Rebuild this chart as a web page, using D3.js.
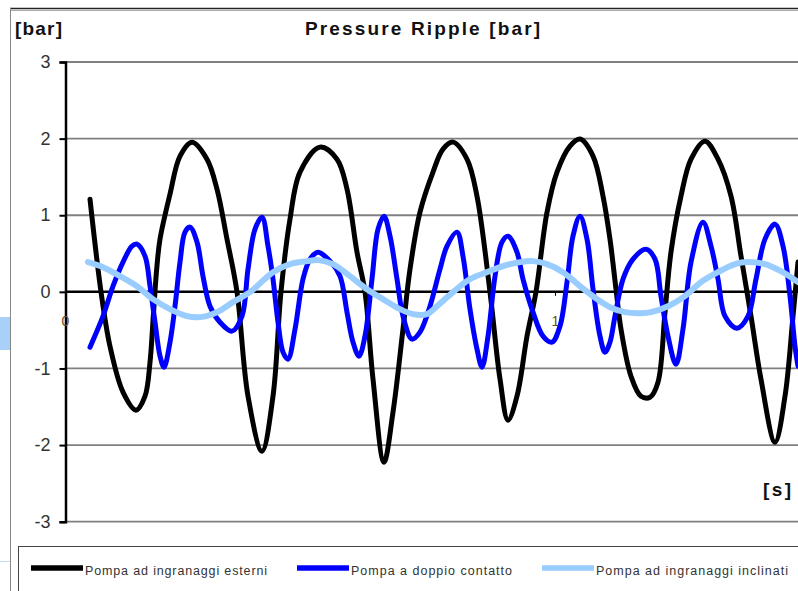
<!DOCTYPE html>
<html><head><meta charset="utf-8">
<script src="https://cdn.jsdelivr.net/npm/d3@7/dist/d3.min.js"></script>
<style>html,body{margin:0;padding:0;background:#fff;}svg{display:block;}</style>
</head><body>
<svg id="c" width="798" height="591"></svg>
<script>
const title = "Pressure Ripple [bar]";
const yUnit = "[bar]";
const xUnit = "[s]";
const yTicks = [-3, -2, -1, 0, 1, 2, 3];
const xTicks = [0, 1];
const seriesNames = ["Pompa ad ingranaggi esterni", "Pompa a doppio contatto", "Pompa ad ingranaggi inclinati"];
const seriesColors = ["#000000", "#0000ff", "#99ccff"];

// [time s, pressure bar]
const esterni = [
[0.051,1.210],[0.0735,0.0],[0.0918,-0.709],[0.1184,-1.309],[0.1449,-1.544],[0.1633,-1.362],[0.1735,-0.918],
[0.1802,-0.317],[0.1871,0.296],
[0.1939,0.688],[0.2143,1.275],[0.2347,1.772],[0.2592,1.954],[0.2898,1.732],[0.3102,1.341],[0.3306,0.688],
[0.3510,0.0],[0.3735,-1.362],[0.4020,-2.080],[0.4245,-1.362],[0.4408,0.0],[0.4592,0.949],[0.4796,1.563],
[0.5204,1.889],[0.5551,1.732],[0.5755,1.341],[0.5959,0.518],[0.6122,0.0],[0.6286,-1.140],[0.6510,-2.223],
[0.6694,-1.570],[0.6898,-0.487],[0.7041,0.296],[0.7245,1.040],[0.7510,1.563],[0.7714,1.863],[0.7918,1.954],
[0.8204,1.732],[0.8408,1.249],[0.8673,0.0],[0.8878,-1.140],[0.9041,-1.675],[0.9224,-1.362],[0.9429,-0.578],
[0.9612,0.0],[0.9837,1.040],[1.0041,1.563],[1.0306,1.902],[1.0510,1.994],[1.0776,1.772],[1.0980,1.249],
[1.1122,0.688],[1.1245,0.035],[1.1347,-0.487],[1.1551,-1.101],[1.1755,-1.362],[1.1939,-1.375],[1.2102,-1.179],
[1.2245,-0.265],[1.2367,0.518],[1.2571,1.249],[1.2776,1.732],[1.3061,1.967],[1.3327,1.732],[1.3592,1.249],
[1.3796,0.466],[1.4000,-0.317],[1.4204,-1.140],[1.4490,-1.962],[1.4694,-1.362],[1.4857,-0.317],[1.4959,0.388]
];
const doppio = [
[0.0510,-0.722],[0.0776,-0.317],[0.0980,0.074],[0.1184,0.388],[0.1367,0.597],[0.1469,0.623],[0.1633,0.466],
[0.1735,0.074],[0.1837,-0.396],[0.1939,-0.839],[0.2020,-0.983],[0.2143,-0.657],[0.2245,-0.187],[0.2347,0.388],
[0.2449,0.779],[0.2551,0.845],[0.2694,0.649],[0.2816,0.205],[0.2959,-0.187],[0.3163,-0.396],[0.3408,-0.513],
[0.3612,-0.317],[0.3735,0.296],[0.3878,0.819],[0.4020,0.975],[0.4143,0.597],[0.4245,0.166],[0.4347,-0.396],
[0.4449,-0.787],[0.4551,-0.879],[0.4694,-0.487],[0.4857,0.166],[0.5000,0.427],[0.5163,0.518],[0.5408,0.401],
[0.5612,0.205],[0.5755,-0.265],[0.5878,-0.657],[0.6000,-0.839],[0.6122,-0.578],[0.6265,0.166],[0.6388,0.819],
[0.6510,0.988],[0.6633,0.727],[0.6776,0.166],[0.6898,-0.317],[0.7082,-0.617],[0.7245,-0.526],[0.7449,-0.187],
[0.7653,0.296],[0.7796,0.597],[0.8000,0.779],[0.8122,0.466],[0.8265,-0.226],[0.8408,-0.748],[0.8510,-0.983],
[0.8633,-0.578],[0.8776,0.205],[0.8918,0.649],[0.9041,0.727],[0.9224,0.518],[0.9347,0.166],[0.9551,-0.265],
[0.9755,-0.578],[0.9939,-0.657],[1.0102,-0.448],[1.0245,0.127],[1.0367,0.727],[1.0510,0.988],[1.0653,0.688],
[1.0776,0.035],[1.0918,-0.578],[1.1020,-0.787],[1.1122,-0.657],[1.1224,-0.317],[1.1388,0.166],[1.1592,0.427],
[1.1857,0.557],[1.2041,0.427],[1.2163,-0.056],[1.2306,-0.578],[1.2469,-0.944],[1.2612,-0.487],[1.2776,0.388],
[1.3020,0.910],[1.3184,0.597],[1.3327,0.166],[1.3469,-0.317],[1.3714,-0.474],[1.3939,-0.317],[1.4102,0.166],
[1.4286,0.688],[1.4490,0.884],[1.4653,0.597],[1.4796,-0.056],[1.4898,-0.709],[1.4959,-0.970]
];
const inclinati = [
[0.0469,0.388],[0.0776,0.322],[0.1122,0.205],[0.1469,0.074],[0.1796,-0.095],[0.2143,-0.226],[0.2490,-0.317],
[0.2755,-0.330],[0.3102,-0.265],[0.3429,-0.134],[0.3776,-0.004],[0.3918,0.074],[0.4245,0.257],[0.4592,0.362],
[0.4939,0.401],[0.5163,0.414],[0.5469,0.362],[0.5816,0.205],[0.6163,0.035],[0.6490,-0.095],[0.6837,-0.226],
[0.7102,-0.291],[0.7388,-0.291],[0.7592,-0.187],[0.7918,-0.004],[0.8265,0.166],[0.8612,0.257],[0.8939,0.336],
[0.9286,0.388],[0.9551,0.401],[0.9837,0.362],[1.0163,0.257],[1.0510,0.074],[1.0857,-0.095],[1.1122,-0.200],
[1.1429,-0.265],[1.1755,-0.278],[1.1959,-0.265],[1.2306,-0.187],[1.2653,-0.056],[1.2980,0.127],[1.3327,0.257],
[1.3673,0.362],[1.3939,0.388],[1.4286,0.362],[1.4612,0.270],[1.4959,0.127]
];
const allSeries = [esterni, doppio, inclinati];

const svg = d3.select("#c");
const font = "'Liberation Sans', Arial, sans-serif";

// stray left-edge artifacts
svg.append("rect").attr("x",0).attr("y",317).attr("width",10).attr("height",33).attr("fill","#a8d0f8");
svg.append("line").attr("x1",0).attr("x2",10).attr("y1",561.5).attr("y2",561.5).attr("stroke","#c8dcef").attr("stroke-width",1);

// outer frame
svg.append("line").attr("x1",10).attr("x2",798).attr("y1",8.5).attr("y2",8.5).attr("stroke","#222").attr("stroke-width",1.5);
svg.append("line").attr("x1",10).attr("x2",798).attr("y1",10.5).attr("y2",10.5).attr("stroke","#aaa").attr("stroke-width",1);
svg.append("line").attr("x1",10.5).attr("x2",10.5).attr("y1",8).attr("y2",591).attr("stroke","#888").attr("stroke-width",1);

const x = d3.scaleLinear().domain([0, 1.5]).range([65, 800]);
const y = d3.scaleLinear().domain([-3, 3]).range([521.7, 62]);
const fmt = d => String(d);

// gridlines
svg.append("g").selectAll("line").data(yTicks.filter(d => d !== 0)).join("line")
  .attr("x1", 65).attr("x2", 800)
  .attr("y1", d => y(d)).attr("y2", d => y(d))
  .attr("stroke", "#808080").attr("stroke-width", 1.8);

// y axis
const yAxis = d3.axisLeft(y).tickValues(yTicks).tickSize(6).tickPadding(9).tickFormat(fmt);
const gy = svg.append("g").attr("transform", "translate(65.5,0)").call(yAxis);
gy.select(".domain").attr("stroke", "#000").attr("stroke-width", 2.5);
gy.selectAll(".tick line").attr("stroke", "#000").attr("stroke-width", 2);
gy.selectAll(".tick text").attr("font-family", font).attr("font-size", 18).attr("fill", "#333");

// zero line
svg.append("line").attr("x1", 65).attr("x2", 800).attr("y1", y(0)).attr("y2", y(0))
  .attr("stroke", "#000").attr("stroke-width", 2.5);

// x axis ticks and labels on the zero line
const xAxis = d3.axisBottom(x).tickValues(xTicks).tickSize(4).tickPadding(20).tickFormat(fmt);
const gx = svg.append("g").attr("transform", `translate(0,${y(0)})`).call(xAxis);
gx.select(".domain").remove();
gx.selectAll(".tick line").attr("stroke", "#000").attr("stroke-width", 1);
gx.selectAll(".tick text").attr("font-family", font).attr("font-size", 14).attr("fill", "#6b4a2a");

// series
const line = d3.line().x(d => x(d[0])).y(d => y(d[1])).curve(d3.curveCatmullRom.alpha(0.5));
const widths = [5, 5, 6];
svg.append("defs").append("clipPath").attr("id","clip").append("rect")
  .attr("x",60).attr("y",40).attr("width",738).attr("height",500);
const gs = svg.append("g").attr("clip-path","url(#clip)");
allSeries.forEach((s, i) => {
  gs.append("path").datum(s).attr("d", line)
    .attr("fill", "none").attr("stroke", seriesColors[i])
    .attr("stroke-width", widths[i]).attr("stroke-linejoin", "round").attr("stroke-linecap", "round");
});

// titles
svg.append("text").attr("x", 305).attr("y", 35).attr("font-family", font).attr("font-weight", "bold")
  .attr("font-size", 19).attr("fill", "#111").attr("textLength", 235).attr("lengthAdjust", "spacing").text(title);
svg.append("text").attr("x", 15).attr("y", 35).attr("font-family", font).attr("font-weight", "bold")
  .attr("font-size", 19).attr("fill", "#111").attr("textLength", 47).attr("lengthAdjust", "spacing").text(yUnit);
svg.append("text").attr("x", 763).attr("y", 496).attr("font-family", font).attr("font-weight", "bold")
  .attr("font-size", 19).attr("fill", "#111").attr("textLength", 28).attr("lengthAdjust", "spacing").text(xUnit);

// legend box
svg.append("rect").attr("x", 18.5).attr("y", 546.5).attr("width", 800).attr("height", 60)
  .attr("fill", "#fff").attr("stroke", "#444").attr("stroke-width", 1);
const legX = [31, 297, 542];
const legTextLen = [182, 161, 192];
const lg = svg.append("g");
seriesNames.forEach((n, i) => {
  lg.append("line").attr("x1", legX[i]).attr("x2", legX[i] + 52).attr("y1", 568).attr("y2", 568)
    .attr("stroke", seriesColors[i]).attr("stroke-width", 5.5);
  lg.append("text").attr("x", legX[i] + 54).attr("y", 574.5).attr("font-family", font)
    .attr("font-size", 12.5).attr("fill", "#333").attr("textLength", legTextLen[i]).attr("lengthAdjust", "spacing").text(n);
});
</script>
</body></html>
